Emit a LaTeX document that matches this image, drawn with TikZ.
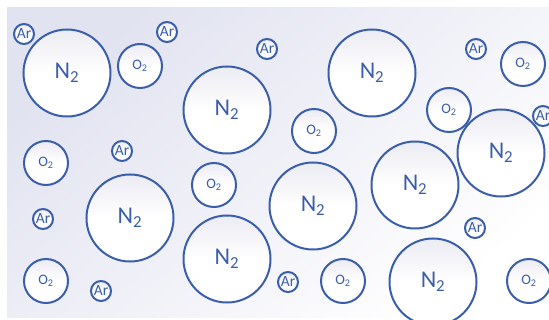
\documentclass[tikz,border=0pt]{standalone}
\usepackage{fontspec}
\setmainfont{Carlito}
\definecolor{molblue}{RGB}{59,94,170}
\definecolor{bgtint}{RGB}{225,227,240}
\definecolor{moltint}{RGB}{235,235,243}
\tikzset{
  mol/.style={draw=molblue, line width=2pt, circle, inner sep=0pt,
    top color=moltint, bottom color=white, middle color=white,
    text=molblue, align=center},
  nitro/.style={mol, minimum size=87pt, font=\fontsize{24}{24}\selectfont},
  oxy/.style={mol, minimum size=44pt, font=\fontsize{14.5}{15}\selectfont},
  argon/.style={mol, minimum size=20pt, font=\fontsize{15.5}{16}\selectfont},
}
\newcommand{\molN}{N\textsubscript{2}}
\newcommand{\molO}{O\textsubscript{2}}
\begin{document}
\begin{tikzpicture}[x=1pt,y=-1pt]
\useasboundingbox (0,0) rectangle (549,320);
\clip (0,0) rectangle (549,320);
% tinted backdrop fading to white
\shade[left color=bgtint, right color=white, shading angle=40] (7,8) rectangle (560,318);

% nitrogen
\node[nitro] (n1) at (67,73) {\molN};
\node[nitro] (n2) at (227,110) {\molN};
\node[nitro] (n3) at (372,73) {\molN};
\node[nitro] (n4) at (501,153) {\molN};
\node[nitro] (n5) at (415,185) {\molN};
\node[nitro] (n6) at (313,206) {\molN};
\node[nitro] (n7) at (130,218) {\molN};
\node[nitro] (n8) at (227,259) {\molN};
\node[nitro] (n9) at (433,282) {\molN};

% oxygen
\node[oxy] (o1) at (140,66) {\molO};
\node[oxy] (o2) at (314,131) {\molO};
\node[oxy] (o3) at (523,64) {\molO};
\node[oxy] (o4) at (449,110) {\molO};
\node[oxy] (o5) at (46,163) {\molO};
\node[oxy] (o6) at (214,185) {\molO};
\node[oxy] (o7) at (46,281) {\molO};
\node[oxy] (o8) at (343,281) {\molO};
\node[oxy] (o9) at (529,281) {\molO};

% argon
\node[argon] (a1) at (24,34) {Ar};
\node[argon] (a2) at (167,32) {Ar};
\node[argon] (a3) at (267,49) {Ar};
\node[argon] (a4) at (476,49) {Ar};
\node[argon] (a5) at (543,116) {Ar};
\node[argon] (a6) at (122,151) {Ar};
\node[argon] (a7) at (43,219) {Ar};
\node[argon] (a8) at (101,291) {Ar};
\node[argon] (a9) at (475,228) {Ar};
\node[argon] (a10) at (288,282) {Ar};
\end{tikzpicture}
\end{document}
